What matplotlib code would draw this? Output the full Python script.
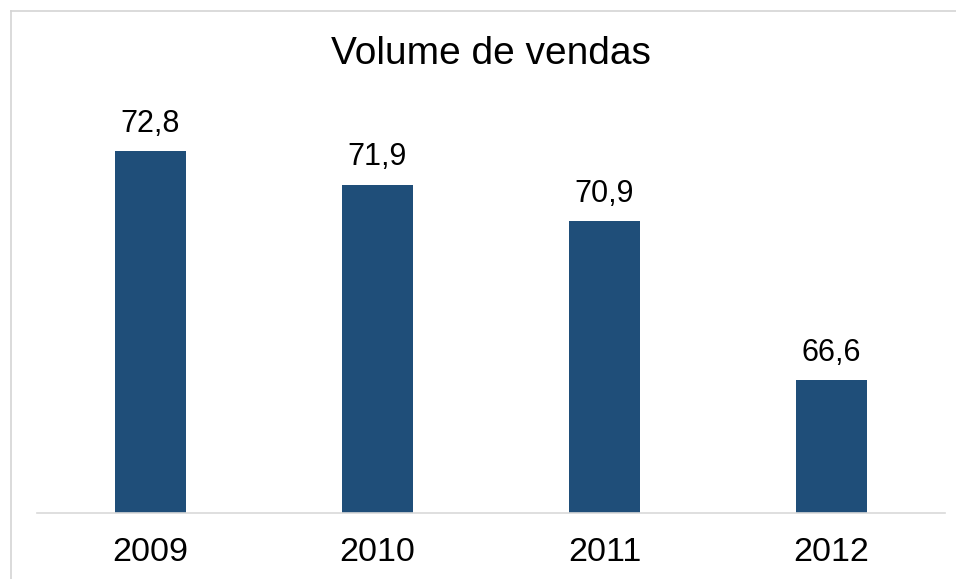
import matplotlib.pyplot as plt
from matplotlib.lines import Line2D

# Dados
anos = ['2009', '2010', '2011', '2012']
vendas = [72.8, 71.9, 70.9, 66.6]

plt.rcParams['font.family'] = ['Liberation Sans', 'DejaVu Sans']

figura = plt.figure(figsize=(9.56, 5.79), dpi=100)

# Moldura cinza clara (só topo e lado esquerdo aparecem)
W, H = 956, 579
figura.add_artist(Line2D([11 / W, 1], [1 - 11 / H, 1 - 11 / H], color='#d4d4d4', lw=1.2))
figura.add_artist(Line2D([11 / W, 11 / W], [0, 1 - 11 / H], color='#d4d4d4', lw=1.2))

eixo = figura.add_axes([37 / W, 66 / H, 908 / W, 442.8 / H])
x = range(len(anos))
barras = eixo.bar(x, vendas, width=0.317, color='#1F4E79')

eixo.set_ylim(63, 75)
eixo.set_xlim(-0.5, len(anos) - 0.5)
eixo.set_xticks(list(x))
eixo.set_xticklabels(anos, fontsize=24.5)
eixo.tick_params(axis='x', length=0, pad=17)
eixo.set_yticks([])

for lado in ['top', 'left', 'right']:
    eixo.spines[lado].set_visible(False)
eixo.spines['bottom'].set_color('#d9d9d9')
eixo.spines['bottom'].set_linewidth(1.2)

for barra, v in zip(barras, vendas):
    eixo.annotate(f'{v:.1f}'.replace('.', ','),
                  (barra.get_x() + barra.get_width() / 2, v),
                  xytext=(0, 9), textcoords='offset points',
                  ha='center', va='bottom', fontsize=22)

figura.text(491 / W, 1 - 54 / H, 'Volume de vendas', ha='center', va='center', fontsize=28)

figura.savefig('out.png', dpi=100)
